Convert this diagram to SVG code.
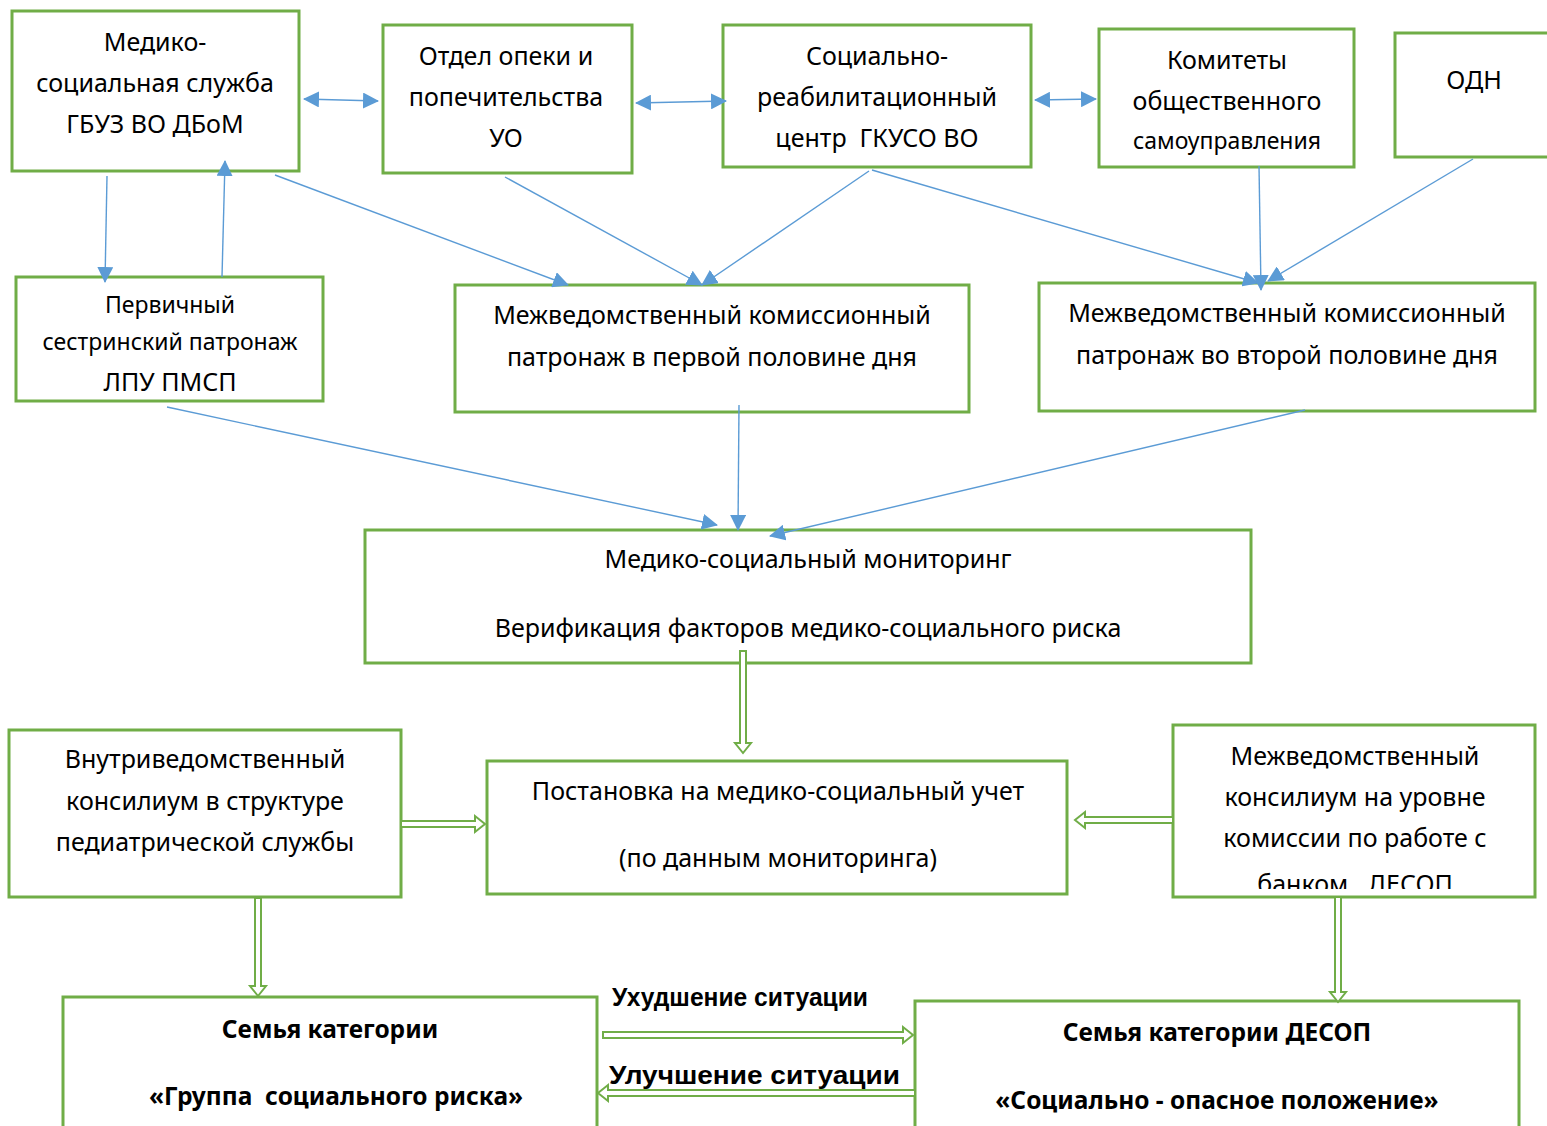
<svg xmlns="http://www.w3.org/2000/svg" width="1547" height="1126" viewBox="0 0 1547 1126">
<defs>
<style>
.box{fill:#fff;stroke:#70AD47;stroke-width:3}
.t{font-family:"Noto Sans","Open Sans",sans-serif;font-size:25px;fill:#000;text-anchor:middle}
.s{font-size:23px}
.b{font-family:"Noto Sans","Open Sans",sans-serif;font-weight:bold;font-size:24.5px;fill:#000;text-anchor:middle}
.lbl{font-family:"Liberation Sans","Noto Sans",sans-serif;font-weight:bold;font-size:25px;fill:#000}
.c{stroke:#5B9BD5;stroke-width:1.4;fill:none;marker-end:url(#ah)}
.cc{stroke:#5B9BD5;stroke-width:1.4;fill:none;marker-end:url(#ah);marker-start:url(#ahs)}
.dbl{fill:#fff;stroke:#70AD47;stroke-width:2;stroke-linejoin:miter}
</style>
<marker id="ah" viewBox="0 0 16 16" refX="15" refY="8" markerWidth="16" markerHeight="16" markerUnits="userSpaceOnUse" orient="auto"><path d="M0,0 L16,8 L0,16 z" fill="#5B9BD5"/></marker>
<marker id="ahs" viewBox="0 0 16 16" refX="1" refY="8" markerWidth="16" markerHeight="16" markerUnits="userSpaceOnUse" orient="auto"><path d="M16,0 L0,8 L16,16 z" fill="#5B9BD5"/></marker>
<clipPath id="cp12"><rect x="1173" y="725" width="362" height="164"/></clipPath>
</defs>
<rect width="1547" height="1126" fill="#fff"/>

<g id="n1"><rect class="box" x="12" y="11" width="287" height="160"/>
<text class="t" x="155" y="51">Медико-</text><text class="t" x="155" y="92">социальная служба</text><text class="t" x="155" y="133">ГБУЗ ВО ДБоМ</text></g>
<g id="n2"><rect class="box" x="383" y="25" width="249" height="148"/>
<text class="t" x="506" y="65">Отдел опеки и</text><text class="t" x="506" y="106">попечительства</text><text class="t" x="506" y="147">УО</text></g>
<g id="n3"><rect class="box" x="723" y="25" width="308" height="142"/>
<text class="t" x="877" y="65">Социально-</text><text class="t" x="877" y="106">реабилитационный</text><text class="t" x="877" y="147" xml:space="preserve">центр  ГКУСО ВО</text></g>
<g id="n4"><rect class="box" x="1099" y="29" width="255" height="138"/>
<text class="t" x="1227" y="69">Комитеты</text><text class="t" x="1227" y="110">общественного</text><text class="t s" x="1227" y="149">самоуправления</text></g>
<g id="n5"><rect class="box" x="1395" y="33" width="160" height="124"/>
<text class="t" x="1474" y="89">ОДН</text></g>
<g id="n6"><rect class="box" x="16" y="277" width="307" height="124"/>
<text class="t s" x="170" y="313">Первичный</text><text class="t s" x="170" y="350">сестринский патронаж</text><text class="t" x="170" y="391">ЛПУ ПМСП</text></g>
<g id="n7"><rect class="box" x="455" y="285" width="514" height="127"/>
<text class="t" x="712" y="324">Межведомственный комиссионный</text><text class="t" x="712" y="366">патронаж в первой половине дня</text></g>
<g id="n8"><rect class="box" x="1039" y="283" width="496" height="128"/>
<text class="t" x="1287" y="322">Межведомственный комиссионный</text><text class="t" x="1287" y="364">патронаж во второй половине дня</text></g>
<g id="n9"><rect class="box" x="365" y="530" width="886" height="133"/>
<text class="t" x="808" y="568">Медико-социальный мониторинг</text><text class="t" x="808" y="637">Верификация факторов медико-социального риска</text></g>
<g id="n10"><rect class="box" x="9" y="730" width="392" height="167"/>
<text class="t" x="205" y="768">Внутриведомственный</text><text class="t" x="205" y="810">консилиум в структуре</text><text class="t" x="205" y="851">педиатрической службы</text></g>
<g id="n11"><rect class="box" x="487" y="761" width="580" height="133"/>
<text class="t" x="778" y="800">Постановка на медико-социальный учет</text><text class="t" x="778" y="867">(по данным мониторинга)</text></g>
<g id="n12"><rect class="box" x="1173" y="725" width="362" height="172"/>
<text class="t" x="1355" y="765">Межведомственный</text><text class="t" x="1355" y="806">консилиум на уровне</text><text class="t" x="1355" y="847">комиссии по работе с</text>
<text class="t" x="1355" y="893" clip-path="url(#cp12)" xml:space="preserve">банком   ДЕСОП</text></g>
<g id="n13"><rect class="box" x="63" y="997" width="534" height="140"/>
<text class="b" x="330" y="1038">Семья категории</text><text class="b" x="336" y="1105" xml:space="preserve">«Группа  социального риска»</text></g>
<g id="n14"><rect class="box" x="915" y="1001" width="604" height="140"/>
<text class="b" x="1217" y="1041">Семья категории ДЕСОП</text><text class="b" x="1217" y="1109">«Социально - опасное положение»</text></g>
<g id="labels">
<text class="lbl" x="612" y="1006" textLength="256" lengthAdjust="spacingAndGlyphs">Ухудшение ситуации</text>
<text class="lbl" x="609" y="1084" textLength="291" lengthAdjust="spacingAndGlyphs">Улучшение ситуации</text>
</g>

<g id="connectors">
<line class="cc" x1="304" y1="99" x2="378" y2="101"/>
<line class="cc" x1="636" y1="103" x2="726" y2="101"/>
<line class="cc" x1="1035" y1="100" x2="1096" y2="99"/>
<line class="c" x1="107" y1="176" x2="105" y2="282"/>
<line class="c" x1="222" y1="277" x2="225" y2="161"/>
<line class="c" x1="275" y1="175" x2="568" y2="285"/>
<line class="c" x1="505" y1="177" x2="702" y2="285"/>
<line class="c" x1="869" y1="171" x2="702" y2="285"/>
<line class="c" x1="872" y1="170" x2="1258" y2="283"/>
<line class="c" x1="1259" y1="166" x2="1261" y2="290"/>
<line class="c" x1="1473" y1="159" x2="1268" y2="281"/>
<line class="c" x1="167" y1="407" x2="717" y2="525"/>
<line class="c" x1="739" y1="405" x2="738" y2="530"/>
<line class="c" x1="1305" y1="410" x2="770" y2="536"/>

<polygon class="dbl" points="740,651 746,651 746,743 751,743 743,753 735,743 740,743"/>
<polygon class="dbl" points="401,821 475,821 475,816 485,824 475,832 475,827 401,827"/>
<polygon class="dbl" points="1173,817 1085,817 1085,812 1075,820 1085,828 1085,823 1173,823"/>
<polygon class="dbl" points="255,898 261,898 261,986 266,986 258,996 250,986 255,986"/>
<polygon class="dbl" points="1335,897 1341,897 1341,992 1346,992 1338,1002 1330,992 1335,992"/>
<polygon class="dbl" points="603,1032 903,1032 903,1027 913,1035 903,1043 903,1038 603,1038"/>
<polygon class="dbl" points="915,1090 608,1090 608,1085 598,1093 608,1101 608,1096 915,1096"/>
</g>
</svg>
